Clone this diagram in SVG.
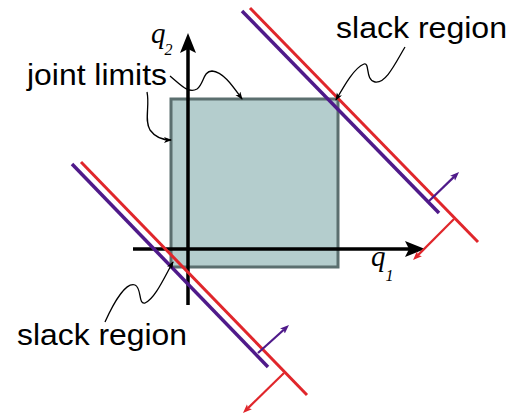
<svg xmlns="http://www.w3.org/2000/svg" width="515" height="414" viewBox="0 0 515 414">
<defs>
<style>
.lbl{font-family:"Liberation Sans",Arial,sans-serif;font-size:29px;fill:#000}
.q{font-family:"Liberation Serif","Times New Roman",serif;font-style:italic;fill:#000;font-size:29px}
.sub{font-size:16px}
.axis{stroke:#000;stroke-width:3.5;fill:none}
.red{stroke:#e0262b;stroke-width:3;fill:none}
.pur{stroke:#4f1a8a;stroke-width:3.5;fill:none}
.redn{stroke:#e0262b;stroke-width:2.2;fill:none}
.purn{stroke:#4f1a8a;stroke-width:2.2;fill:none}
.lead{stroke:#000;stroke-width:1.3;fill:none}
</style>
<marker id="axhead" markerUnits="userSpaceOnUse" markerWidth="22" markerHeight="18" refX="4" refY="8" orient="auto">
<path d="M0,0 L20,8 L0,16 L4,8 z" fill="#000"/>
</marker>
<marker id="ahRed" markerUnits="userSpaceOnUse" markerWidth="10" markerHeight="8" refX="2" refY="3.5" orient="auto">
<path d="M0,0 L9,3.5 L0,7 L2,3.5 z" fill="#e0262b"/>
</marker>
<marker id="ahPur" markerUnits="userSpaceOnUse" markerWidth="10" markerHeight="8" refX="2" refY="3.5" orient="auto">
<path d="M0,0 L9,3.5 L0,7 L2,3.5 z" fill="#4f1a8a"/>
</marker>
<marker id="ahBlk" markerUnits="userSpaceOnUse" markerWidth="9" markerHeight="8" refX="7" refY="3" orient="auto">
<path d="M0,0 L8,3 L0,6 L2,3 z" fill="#000"/>
</marker>
</defs>
<rect width="515" height="414" fill="#fff"/>

<g id="joint-limits-box">
<rect x="171" y="99" width="167" height="168" fill="#b4cdcd" stroke="#5b6f6f" stroke-width="3"/>
</g>

<g id="axes">
<line class="axis" x1="133" y1="249" x2="409" y2="249" marker-end="url(#axhead)"/>
<line class="axis" x1="188" y1="305" x2="188" y2="49" marker-end="url(#axhead)"/>
<text class="q" x="151" y="43">q<tspan class="sub" dx="-1" dy="12">2</tspan></text>
<text class="q" x="371" y="266">q<tspan class="sub" dx="0" dy="15">1</tspan></text>
</g>

<g id="upper-constraint">
<line class="red" x1="250" y1="8" x2="478" y2="242"/>
<line class="pur" x1="242" y1="11" x2="439" y2="213"/>
<line class="purn" x1="428" y1="202" x2="454" y2="176.9" marker-end="url(#ahPur)"/>
<line class="redn" x1="454" y1="219" x2="418" y2="255.1" marker-end="url(#ahRed)"/>
</g>

<g id="lower-constraint">
<line class="red" x1="81" y1="162" x2="307" y2="395"/>
<line class="pur" x1="72" y1="164" x2="268" y2="367"/>
<line class="purn" x1="258" y1="353" x2="283.8" y2="329.7" marker-end="url(#ahPur)"/>
<line class="redn" x1="284" y1="373" x2="248" y2="408.1" marker-end="url(#ahRed)"/>
</g>

<g id="label-joint-limits">
<text class="lbl" x="27" y="85" textLength="140" lengthAdjust="spacingAndGlyphs">joint limits</text>
</g>
<g id="label-slack-upper">
<text class="lbl" x="336" y="38" textLength="171" lengthAdjust="spacingAndGlyphs">slack region</text>
</g>
<g id="label-slack-lower">
<text class="lbl" x="17" y="345" textLength="170" lengthAdjust="spacingAndGlyphs">slack region</text>
</g>

<g id="connectors">
<path class="lead" d="M170,76 C180,84 188,94 197,89 C204,84 203,71 212,71 C224,72 234,88 242,99" marker-end="url(#ahBlk)"/>
<path class="lead" d="M147,92 C150,106 144,120 150,130 C155,137 162,140 171,140" marker-end="url(#ahBlk)"/>
<path class="lead" d="M405,47 C396,62 386,84 375,82 C365,80 370,62 364,64 C354,68 344,86 336,100" marker-end="url(#ahBlk)"/>
<path class="lead" d="M105,322 C114,302 126,282 135,285 C142,288 138,305 145,303 C155,299 165,276 173,262" marker-end="url(#ahBlk)"/>
</g>
</svg>
